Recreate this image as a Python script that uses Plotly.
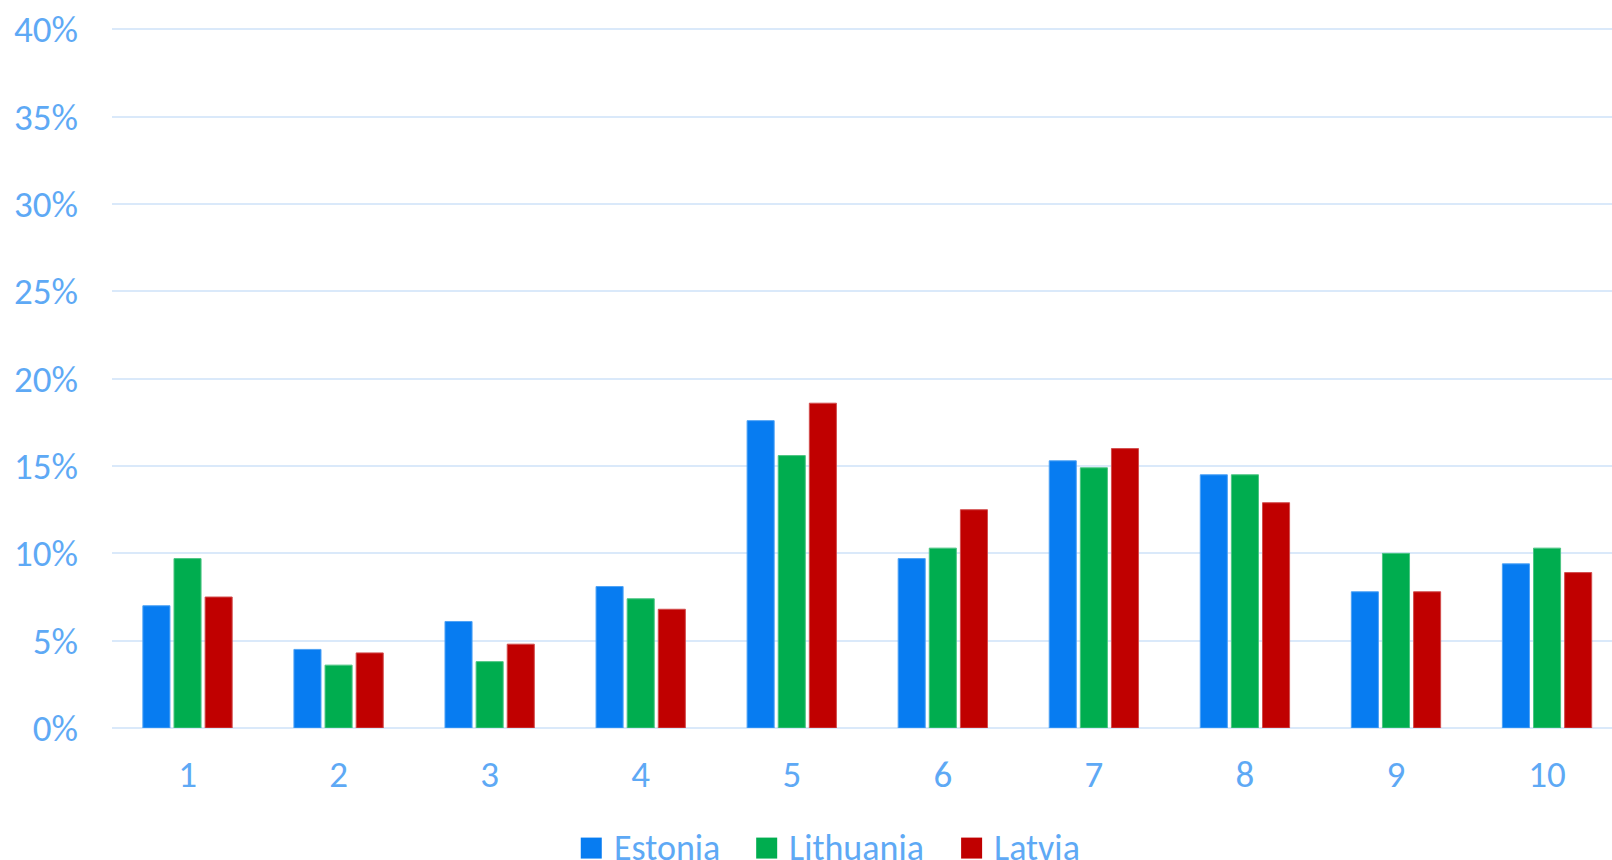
import plotly.graph_objects as go

categories = ["1", "2", "3", "4", "5", "6", "7", "8", "9", "10"]
estonia = [7.0, 4.5, 6.1, 8.1, 17.6, 9.7, 15.3, 14.5, 7.8, 9.4]
lithuania = [9.7, 3.6, 3.8, 7.4, 15.6, 10.3, 14.9, 14.5, 10.0, 10.3]
latvia = [7.5, 4.3, 4.8, 6.8, 18.6, 12.5, 16.0, 12.9, 7.8, 8.9]
series_names = ["Estonia", "Lithuania", "Latvia"]
series_colors = ["#077CF1", "#00AD4F", "#C00000"]
line_colors = ["#4EA2F5", "#4CC583", "#D24D4D"]
y_ticks = [0, 5, 10, 15, 20, 25, 30, 35, 40]
y_tick_text = [f"{v}%" for v in y_ticks]

FONT = "Carlito, Calibri, Lato, 'Open Sans', sans-serif"
TEXT_COLOR = "#5EA9F5"
GRID = "#DAE9FA"

W, H = 1612, 860
L = 112.2
B = H - 728.3
PX_PER_UNIT = 17.48
Y_TOP = 40.2
T = 728.3 - Y_TOP * PX_PER_UNIT
plot_w = W - L
plot_h = H - T - B

fig = go.Figure()
for name, vals, col, lc in zip(series_names, [estonia, lithuania, latvia], series_colors, line_colors):
    fig.add_trace(go.Bar(
        x=categories, y=vals, name=name,
        marker=dict(color=col, line=dict(color=lc, width=1)),
        showlegend=False,
    ))

fig.update_layout(
    width=W, height=H,
    margin=dict(l=L, r=0, t=T, b=B, pad=0),
    paper_bgcolor="white", plot_bgcolor="white",
    barmode="group", bargap=0.382, bargroupgap=0.13,
    font=dict(family=FONT, color=TEXT_COLOR, size=37),
    xaxis=dict(
        type="category", range=[-0.5, 9.43],
        showgrid=False, showline=False, zeroline=False,
        ticks="", ticklabelstandoff=21,
        tickfont=dict(family=FONT, size=37, color=TEXT_COLOR),
    ),
    yaxis=dict(
        range=[0, Y_TOP], tickmode="array", tickvals=y_ticks, ticktext=y_tick_text,
        showgrid=True, gridcolor=GRID, gridwidth=1.5,
        zeroline=True, zerolinecolor=GRID, zerolinewidth=1.5,
        showline=False, ticks="", ticklabelstandoff=33,
        tickfont=dict(family=FONT, size=37, color=TEXT_COLOR),
    ),
)

# manual legend (bottom, centered)
def px_x(px):
    return (px - L) / plot_w

def px_y(py):
    return (H - B - py) / plot_h

legend_x = [580.9, 756.3, 961.2]
for name, col, lx in zip(series_names, series_colors, legend_x):
    fig.add_shape(type="rect", xref="paper", yref="paper",
                  x0=px_x(lx), x1=px_x(lx + 21), y0=px_y(859), y1=px_y(838),
                  fillcolor=col, line=dict(width=0))
    fig.add_annotation(xref="paper", yref="paper", x=px_x(lx + 31), y=px_y(848),
                       xanchor="left", yanchor="middle", showarrow=False,
                       text=name, font=dict(family=FONT, size=36, color=TEXT_COLOR))

fig.write_html("out.html", config={"displayModeBar": False},
               post_script="document.body.style.margin='0px';")
